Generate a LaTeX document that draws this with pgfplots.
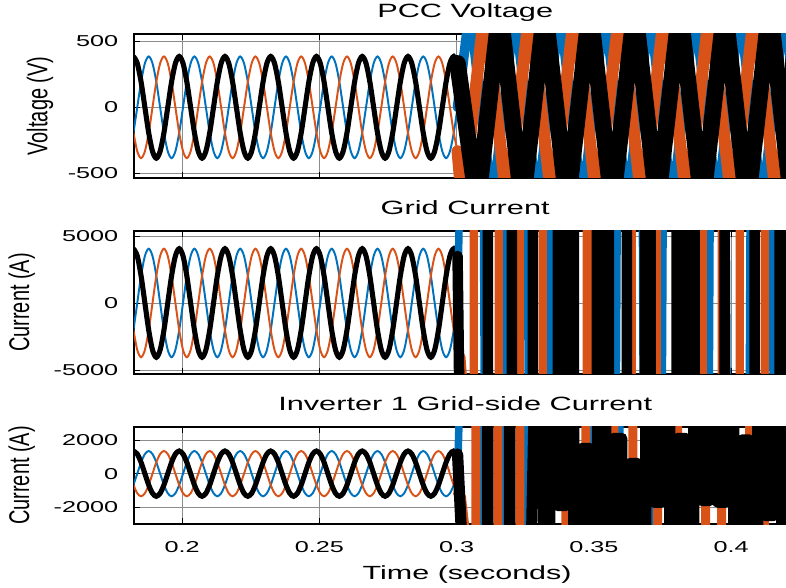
\documentclass[border=0pt]{standalone}
\usepackage{fontspec}
\setmainfont[FakeStretch=1.6]{Liberation Sans}
\newfontfamily\labelfont[FakeStretch=0.7]{Liberation Sans}
\usepackage{pgfplots}
\pgfplotsset{compat=1.18}
\usepackage{pgfplotstable}
\definecolor{mblue}{RGB}{0,114,189}
\definecolor{morange}{RGB}{217,83,25}

% steady-state part (60 Hz, 30 deg steps)
\pgfplotstableread{
t va vb vc ga gb gc ia ib ic
0.18230 385 -193 -193 4050 -2025 -2025 1350 -675 -675
0.18369 333 0 -333 3507 0 -3507 1169 0 -1169
0.18508 193 193 -385 2025 2025 -4050 675 675 -1350
0.18647 0 333 -333 0 3507 -3507 0 1169 -1169
0.18786 -193 385 -193 -2025 4050 -2025 -675 1350 -675
0.18924 -333 333 0 -3507 3507 0 -1169 1169 0
0.19063 -385 193 193 -4050 2025 2025 -1350 675 675
0.19202 -333 0 333 -3507 0 3507 -1169 0 1169
0.19341 -193 -193 385 -2025 -2025 4050 -675 -675 1350
0.19480 0 -333 333 0 -3507 3507 0 -1169 1169
0.19619 193 -385 193 2025 -4050 2025 675 -1350 675
0.19758 333 -333 0 3507 -3507 0 1169 -1169 0
0.19897 385 -193 -193 4050 -2025 -2025 1350 -675 -675
0.20036 333 0 -333 3507 0 -3507 1169 0 -1169
0.20174 193 193 -385 2025 2025 -4050 675 675 -1350
0.20313 0 333 -333 0 3507 -3507 0 1169 -1169
0.20452 -193 385 -193 -2025 4050 -2025 -675 1350 -675
0.20591 -333 333 0 -3507 3507 0 -1169 1169 0
0.20730 -385 193 193 -4050 2025 2025 -1350 675 675
0.20869 -333 0 333 -3507 0 3507 -1169 0 1169
0.21008 -193 -193 385 -2025 -2025 4050 -675 -675 1350
0.21147 0 -333 333 0 -3507 3507 0 -1169 1169
0.21286 193 -385 193 2025 -4050 2025 675 -1350 675
0.21424 333 -333 0 3507 -3507 0 1169 -1169 0
0.21563 385 -193 -193 4050 -2025 -2025 1350 -675 -675
0.21702 333 0 -333 3507 0 -3507 1169 0 -1169
0.21841 193 193 -385 2025 2025 -4050 675 675 -1350
0.21980 0 333 -333 0 3507 -3507 0 1169 -1169
0.22119 -193 385 -193 -2025 4050 -2025 -675 1350 -675
0.22258 -333 333 0 -3507 3507 0 -1169 1169 0
0.22397 -385 193 193 -4050 2025 2025 -1350 675 675
0.22536 -333 0 333 -3507 0 3507 -1169 0 1169
0.22674 -193 -193 385 -2025 -2025 4050 -675 -675 1350
0.22813 0 -333 333 0 -3507 3507 0 -1169 1169
0.22952 193 -385 193 2025 -4050 2025 675 -1350 675
0.23091 333 -333 0 3507 -3507 0 1169 -1169 0
0.23230 385 -193 -193 4050 -2025 -2025 1350 -675 -675
0.23369 333 0 -333 3507 0 -3507 1169 0 -1169
0.23508 193 193 -385 2025 2025 -4050 675 675 -1350
0.23647 0 333 -333 0 3507 -3507 0 1169 -1169
0.23786 -193 385 -193 -2025 4050 -2025 -675 1350 -675
0.23924 -333 333 0 -3507 3507 0 -1169 1169 0
0.24063 -385 193 193 -4050 2025 2025 -1350 675 675
0.24202 -333 0 333 -3507 0 3507 -1169 0 1169
0.24341 -193 -193 385 -2025 -2025 4050 -675 -675 1350
0.24480 0 -333 333 0 -3507 3507 0 -1169 1169
0.24619 193 -385 193 2025 -4050 2025 675 -1350 675
0.24758 333 -333 0 3507 -3507 0 1169 -1169 0
0.24897 385 -193 -193 4050 -2025 -2025 1350 -675 -675
0.25036 333 0 -333 3507 0 -3507 1169 0 -1169
0.25174 193 193 -385 2025 2025 -4050 675 675 -1350
0.25313 0 333 -333 0 3507 -3507 0 1169 -1169
0.25452 -193 385 -193 -2025 4050 -2025 -675 1350 -675
0.25591 -333 333 0 -3507 3507 0 -1169 1169 0
0.25730 -385 193 193 -4050 2025 2025 -1350 675 675
0.25869 -333 0 333 -3507 0 3507 -1169 0 1169
0.26008 -193 -193 385 -2025 -2025 4050 -675 -675 1350
0.26147 0 -333 333 0 -3507 3507 0 -1169 1169
0.26286 193 -385 193 2025 -4050 2025 675 -1350 675
0.26424 333 -333 0 3507 -3507 0 1169 -1169 0
0.26563 385 -193 -193 4050 -2025 -2025 1350 -675 -675
0.26702 333 0 -333 3507 0 -3507 1169 0 -1169
0.26841 193 193 -385 2025 2025 -4050 675 675 -1350
0.26980 0 333 -333 0 3507 -3507 0 1169 -1169
0.27119 -193 385 -193 -2025 4050 -2025 -675 1350 -675
0.27258 -333 333 0 -3507 3507 0 -1169 1169 0
0.27397 -385 193 193 -4050 2025 2025 -1350 675 675
0.27536 -333 0 333 -3507 0 3507 -1169 0 1169
0.27674 -193 -193 385 -2025 -2025 4050 -675 -675 1350
0.27813 0 -333 333 0 -3507 3507 0 -1169 1169
0.27952 193 -385 193 2025 -4050 2025 675 -1350 675
0.28091 333 -333 0 3507 -3507 0 1169 -1169 0
0.28230 385 -193 -193 4050 -2025 -2025 1350 -675 -675
0.28369 333 0 -333 3507 0 -3507 1169 0 -1169
0.28508 193 193 -385 2025 2025 -4050 675 675 -1350
0.28647 0 333 -333 0 3507 -3507 0 1169 -1169
0.28786 -193 385 -193 -2025 4050 -2025 -675 1350 -675
0.28924 -333 333 0 -3507 3507 0 -1169 1169 0
0.29063 -385 193 193 -4050 2025 2025 -1350 675 675
0.29202 -333 0 333 -3507 0 3507 -1169 0 1169
0.29341 -193 -193 385 -2025 -2025 4050 -675 -675 1350
0.29480 0 -333 333 0 -3507 3507 0 -1169 1169
0.29619 193 -385 193 2025 -4050 2025 675 -1350 675
0.29758 333 -333 0 3507 -3507 0 1169 -1169 0
0.29897 385 -193 -193 4050 -2025 -2025 1350 -675 -675
0.30036 333 0 -333 3507 0 -3507 1169 0 -1169
}\steady

\pgfplotsset{
  myax/.style={
    scale only axis, width=434.67pt, anchor=south west,
    xmin=0.1825, xmax=0.42,
    xtick={0.2,0.25,0.3,0.35,0.4},
    scaled ticks=false,
    /pgf/number format/1000 sep={},
    /pgf/number format/assume math mode=true,
    grid=major, major grid style={black!45, line width=0.5pt},
    axis line style={line width=0.9pt},
    tick style={black, line width=0.6pt},
    tick align=inside,
    ticklabel style={font=\fontsize{10.5}{12}\selectfont},
    yticklabel style={xshift=-7pt},
    xticklabel style={anchor=base, yshift=-18.7pt},
    title style={font=\fontsize{12.8}{14}\selectfont, at={(axis description cs:0.508,1)}, anchor=base, yshift=4.8pt},
    ylabel style={font=\labelfont\fontsize{19}{21}\selectfont, anchor=center},
    xlabel style={font=\fontsize{12.7}{14}\selectfont, at={(axis description cs:0.511,0)}, anchor=base, yshift=-37.3pt},
  },
  sine/.style={smooth, no marks},
  chaos/.style={sharp plot, no marks, line join=round, line cap=round},
}

\begin{document}
\begin{tikzpicture}
\path[use as bounding box] (0,0) rectangle (524pt,391.33pt);

% ---------------- PCC Voltage ----------------
\begin{axis}[myax, at={(89.33pt,272.67pt)}, height=96pt,
  ymin=-535, ymax=555, ytick={-500,0,500}, xticklabels={},
  title={PCC Voltage}, ylabel={Voltage (V)},
  ylabel style={at={(axis description cs:-0.144,0.5)}}]
\addplot[sine, mblue, line width=1.3pt] table[x=t,y=vb] {\steady};
\addplot[sine, morange, line width=1.3pt] table[x=t,y=vc] {\steady};
\addplot[sine, black, line width=3.4pt] table[x=t,y=va] {\steady};
\addplot[chaos, mblue, line width=6.5pt] coordinates {
(0.30036,0) (0.30484,750) (0.31303,-750) (0.32122,750) (0.32941,-750) (0.33760,750) (0.34579,-750) (0.35398,750) (0.36217,-750) (0.37036,750) (0.37855,-750) (0.38674,750) (0.39493,-750) (0.40312,750) (0.41131,-750) (0.41950,750) (0.42769,-750)};
\addplot[chaos, morange, line width=8pt] coordinates {
(0.30036,-333) (0.30211,-750) (0.31030,750) (0.31849,-750) (0.32668,750) (0.33487,-750) (0.34307,750) (0.35126,-750) (0.35945,750) (0.36764,-750) (0.37583,750) (0.38402,-750) (0.39221,750) (0.40040,-750) (0.40859,750) (0.41678,-750) (0.42497,750)};
\addplot[chaos, black, line width=11pt] coordinates {
(0.30036,333) (0.30757,-750) (0.31576,750) (0.32395,-750) (0.33214,750) (0.34033,-750) (0.34853,750) (0.35672,-750) (0.36491,750) (0.37310,-750) (0.38129,750) (0.38948,-750) (0.39767,750) (0.40586,-750) (0.41405,750) (0.42224,-750)};
\end{axis}

% ---------------- Grid Current ----------------
\begin{axis}[myax, at={(89.33pt,142pt)}, height=95.33pt,
  ymin=-5300, ymax=5370, ytick={-5000,0,5000}, xticklabels={},
  title={Grid Current}, ylabel={Current (A)},
  ylabel style={at={(axis description cs:-0.172,0.5)}}]
\addplot[sine, mblue, line width=1.3pt] table[x=t,y=gb] {\steady};
\addplot[sine, morange, line width=1.3pt] table[x=t,y=gc] {\steady};
\addplot[sine, black, line width=3.4pt] table[x=t,y=ga] {\steady};
\addplot[chaos, mblue, line width=5pt] coordinates {
(0.30036,0) (0.30193,16000) (0.30957,16000) (0.31030,-16000) (0.31685,-16000) (0.31758,16000) (0.32559,16000) (0.32632,-16000) (0.33360,-16000) (0.33433,16000) (0.35435,16000) (0.35435,-16000) (0.35799,-16000) (0.35872,16000) (0.36746,16000) (0.36818,-16000) (0.37474,-16000) (0.37546,16000) (0.38820,16000) (0.38893,-16000) (0.39185,-16000) (0.39257,16000) (0.39803,16000) (0.39876,-16000) (0.40641,-16000) (0.40713,16000) (0.41478,16000) (0.41551,-16000) (0.42133,-16000)};
\addplot[chaos, morange, line width=5.5pt] coordinates {
(0.30036,-3507) (0.30175,-4050) (0.30630,-16000) (0.30630,16000) (0.31540,16000) (0.31540,-16000) (0.32304,-16000) (0.32304,16000) (0.33142,16000) (0.33142,-16000) (0.34015,-16000) (0.34015,16000) (0.34743,16000) (0.34743,-16000) (0.34962,-16000) (0.34962,16000) (0.35180,16000) (0.35180,-16000) (0.36381,-16000) (0.36381,16000) (0.37292,16000) (0.37292,-16000) (0.38020,-16000) (0.38020,16000) (0.38165,16000) (0.38165,-16000) (0.38311,-16000) (0.38311,16000) (0.38966,16000) (0.38966,-16000) (0.39658,-16000) (0.39658,16000) (0.40313,16000) (0.40313,-16000) (0.41223,-16000) (0.41223,16000) (0.42133,16000)};
\addplot[chaos, black, line width=7pt] coordinates {
(0.30036,3507) (0.30157,-16000) (0.31139,-16000) (0.31139,16000) (0.32013,16000) (0.32013,-16000) (0.32778,-16000) (0.32778,16000) (0.33688,16000) (0.33688,-16000) (0.33979,-16000) (0.33979,16000) (0.34270,16000) (0.34270,-16000) (0.35107,-16000) (0.35107,16000) (0.35326,16000) (0.35326,-16000) (0.35544,-16000) (0.35544,16000) (0.36199,16000) (0.36199,-16000) (0.36855,-16000) (0.36855,16000) (0.36964,16000) (0.36964,-16000) (0.37073,-16000) (0.37073,16000) (0.38020,16000) (0.38020,-16000) (0.38347,-16000) (0.38347,16000) (0.38675,16000) (0.38675,-16000) (0.39767,-16000) (0.39767,16000) (0.40859,16000) (0.40859,-16000) (0.41769,-16000) (0.41769,16000) (0.42133,16000)};
\end{axis}

% ---------------- Inverter 1 Grid-side Current ----------------
\begin{axis}[myax, at={(89.33pt,42pt)}, height=64.67pt,
  ymin=-3000, ymax=2780, ytick={-2000,0,2000},
  title={Inverter 1 Grid-side Current}, ylabel={Current (A)},
  xlabel={Time (seconds)},
  ylabel style={at={(axis description cs:-0.172,0.5)}}]
\addplot[sine, mblue, line width=1.3pt] table[x=t,y=ib] {\steady};
\addplot[sine, morange, line width=1.3pt] table[x=t,y=ic] {\steady};
\addplot[sine, black, line width=3.4pt] table[x=t,y=ia] {\steady};
\addplot[chaos, mblue, line width=5pt] coordinates {
(0.30036,0) (0.30193,9000) (0.30885,9000) (0.30885,-9000) (0.31722,-9000) (0.31722,9000) (0.32523,9000) (0.32523,-9000) (0.33396,-9000) (0.33396,9000) (0.34925,9000) (0.34925,-9000) (0.35945,-9000) (0.35945,9000) (0.37219,9000) (0.37219,-9000) (0.38675,-9000) (0.38675,9000) (0.40932,9000) (0.40932,-9000) (0.42133,-9000)};
\addplot[chaos, morange, line width=6pt] coordinates {
(0.30036,-1169) (0.30175,-1350) (0.30703,-9000) (0.30703,9000) (0.31503,9000) (0.31503,-9000) (0.32304,-9000) (0.32304,9000) (0.33142,9000) (0.33142,-9000) (0.33979,-9000) (0.33979,9000) (0.34707,9000) (0.34707,-9000) (0.35726,-9000) (0.35726,9000) (0.36418,9000) (0.36418,-9000) (0.37328,-9000) (0.37328,9000) (0.38056,9000) (0.38056,-9000) (0.39075,-9000) (0.39075,9000) (0.39658,9000) (0.39658,-9000) (0.40677,-9000) (0.40677,9000) (0.41223,9000) (0.41223,-9000) (0.42133,-9000)};
\addplot[chaos, black, line width=7.5pt] coordinates {
(0.30036,1169) (0.30339,-9000) (0.31139,-9000) (0.31139,9000) (0.31940,9000) (0.31940,-9000) (0.32668,-9000) (0.32887,9000) (0.33178,9000) (0.33178,-9000) (0.33396,-9000) (0.33396,9000) (0.33688,9000) (0.33688,-1900) (0.33979,-1900) (0.33979,9000) (0.34270,9000) (0.34270,-9000) (0.34561,-9000) (0.34561,1500) (0.34853,1500) (0.34853,-9000) (0.35144,-9000) (0.35144,9000) (0.35435,9000) (0.35435,-9000) (0.35726,-9000) (0.35726,2100) (0.36017,2100) (0.36017,-9000) (0.36309,-9000) (0.36309,600) (0.36600,600) (0.36600,-9000) (0.36891,-9000) (0.36891,9000) (0.37182,9000) (0.37182,-1700) (0.37474,-1700) (0.37474,9000) (0.37765,9000) (0.37765,-9000) (0.38056,-9000) (0.38056,2100) (0.38347,2100) (0.38347,-9000) (0.38638,-9000) (0.38638,9000) (0.38930,9000) (0.38930,-1600) (0.39221,-1600) (0.39221,9000) (0.39512,9000) (0.39512,-1700) (0.39803,-1700) (0.39803,9000) (0.40095,9000) (0.40095,-9000) (0.40386,-9000) (0.40386,2000) (0.40677,2000) (0.40677,-9000) (0.40968,-9000) (0.40968,9000) (0.41259,9000) (0.41259,-2500) (0.41551,-2500) (0.41551,9000) (0.41842,9000) (0.41842,-9000) (0.42133,-9000) (0.42133,9000)};
\end{axis}
\end{tikzpicture}
\end{document}
